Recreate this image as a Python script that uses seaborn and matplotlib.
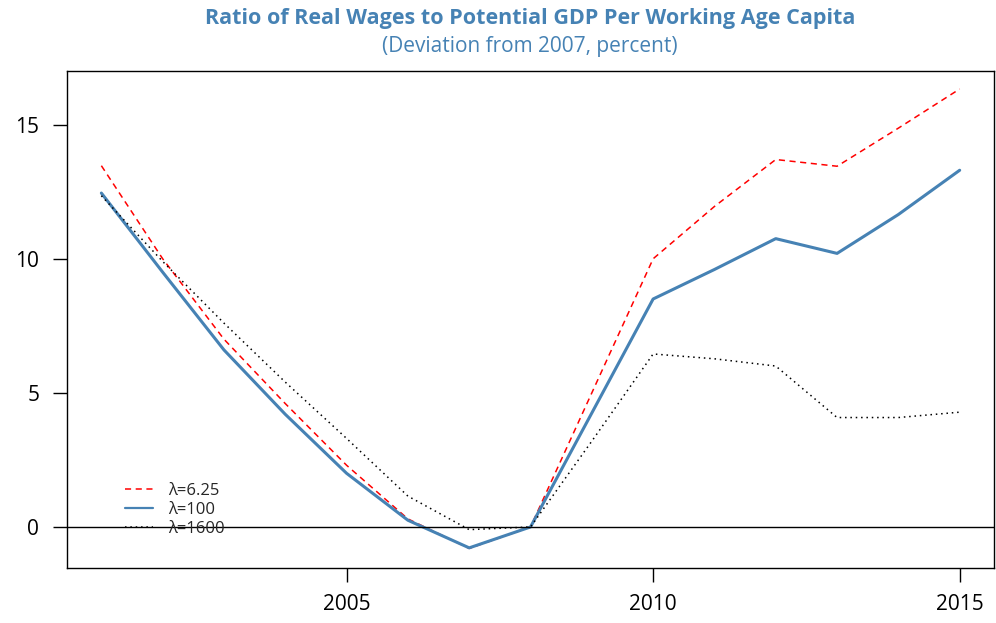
import pandas as pd
import seaborn as sns
import matplotlib.pyplot as plt

# 数据
years = list(range(2001, 2016))
lam_625 = [13.47, 10.0, 7.0, 4.6, 2.3, 0.3, -0.8, 0.0, 5.0, 10.0, 11.95, 13.7, 13.45, 14.87, 16.33]
lam_100 = [12.45, 9.5, 6.6, 4.2, 2.0, 0.25, -0.78, 0.0, 4.25, 8.5, 9.6, 10.75, 10.2, 11.65, 13.3]
lam_1600 = [12.35, 9.9, 7.6, 5.4, 3.3, 1.15, -0.1, 0.0, 3.2, 6.45, 6.27, 6.0, 4.08, 4.08, 4.28]
series_names = ['λ=6.25', 'λ=100', 'λ=1600']
xticks = [2005, 2010, 2015]
yticks = [0, 5, 10, 15]

sns.set_style('ticks')
plt.rcParams['font.family'] = ['Open Sans', 'DejaVu Sans']

fig = plt.figure(figsize=(9.96, 6.23), dpi=100)
ax = fig.add_axes([0.0673, 0.0883, 0.9307, 0.7977])

sns.lineplot(x=years, y=lam_625, color='red', linestyle=(0, (4, 3)), linewidth=1.1, ax=ax, label=series_names[0])
sns.lineplot(x=years, y=lam_100, color='steelblue', linestyle='-', linewidth=2.2, ax=ax, label=series_names[1])
sns.lineplot(x=years, y=lam_1600, color='black', linestyle=(0, (1, 2.5)), linewidth=1.1, ax=ax, label=series_names[2])

ax.axhline(0, color='black', linewidth=1.0)

ax.set_xlim(2000.44, 2015.56)
ax.set_ylim(-1.53, 17.0)
ax.set_xticks(xticks)
ax.set_yticks(yticks)
ax.tick_params(axis='both', direction='out', length=10, width=1.0, labelsize=15,
               colors='black')
ax.tick_params(axis='x', pad=9)
ax.tick_params(axis='y', pad=10)
for s in ax.spines.values():
    s.set_linewidth(1.0)
    s.set_color('black')

leg = ax.legend(loc='upper left', bbox_to_anchor=(0.062, 0.172), frameon=False, fontsize=12,
                handlelength=1.7, handletextpad=0.9, labelspacing=0.2,
                borderpad=0, borderaxespad=0)
leg.get_lines()[1].set_linewidth(1.6)

fig.text(0.532, 0.97, 'Ratio of Real Wages to Potential GDP Per Working Age Capita',
         ha='center', va='center', fontsize=15.5, fontweight='bold', color='steelblue')
fig.text(0.532, 0.926, '(Deviation from 2007, percent)',
         ha='center', va='center', fontsize=15, color='steelblue')

plt.savefig('out.png', dpi=100)
